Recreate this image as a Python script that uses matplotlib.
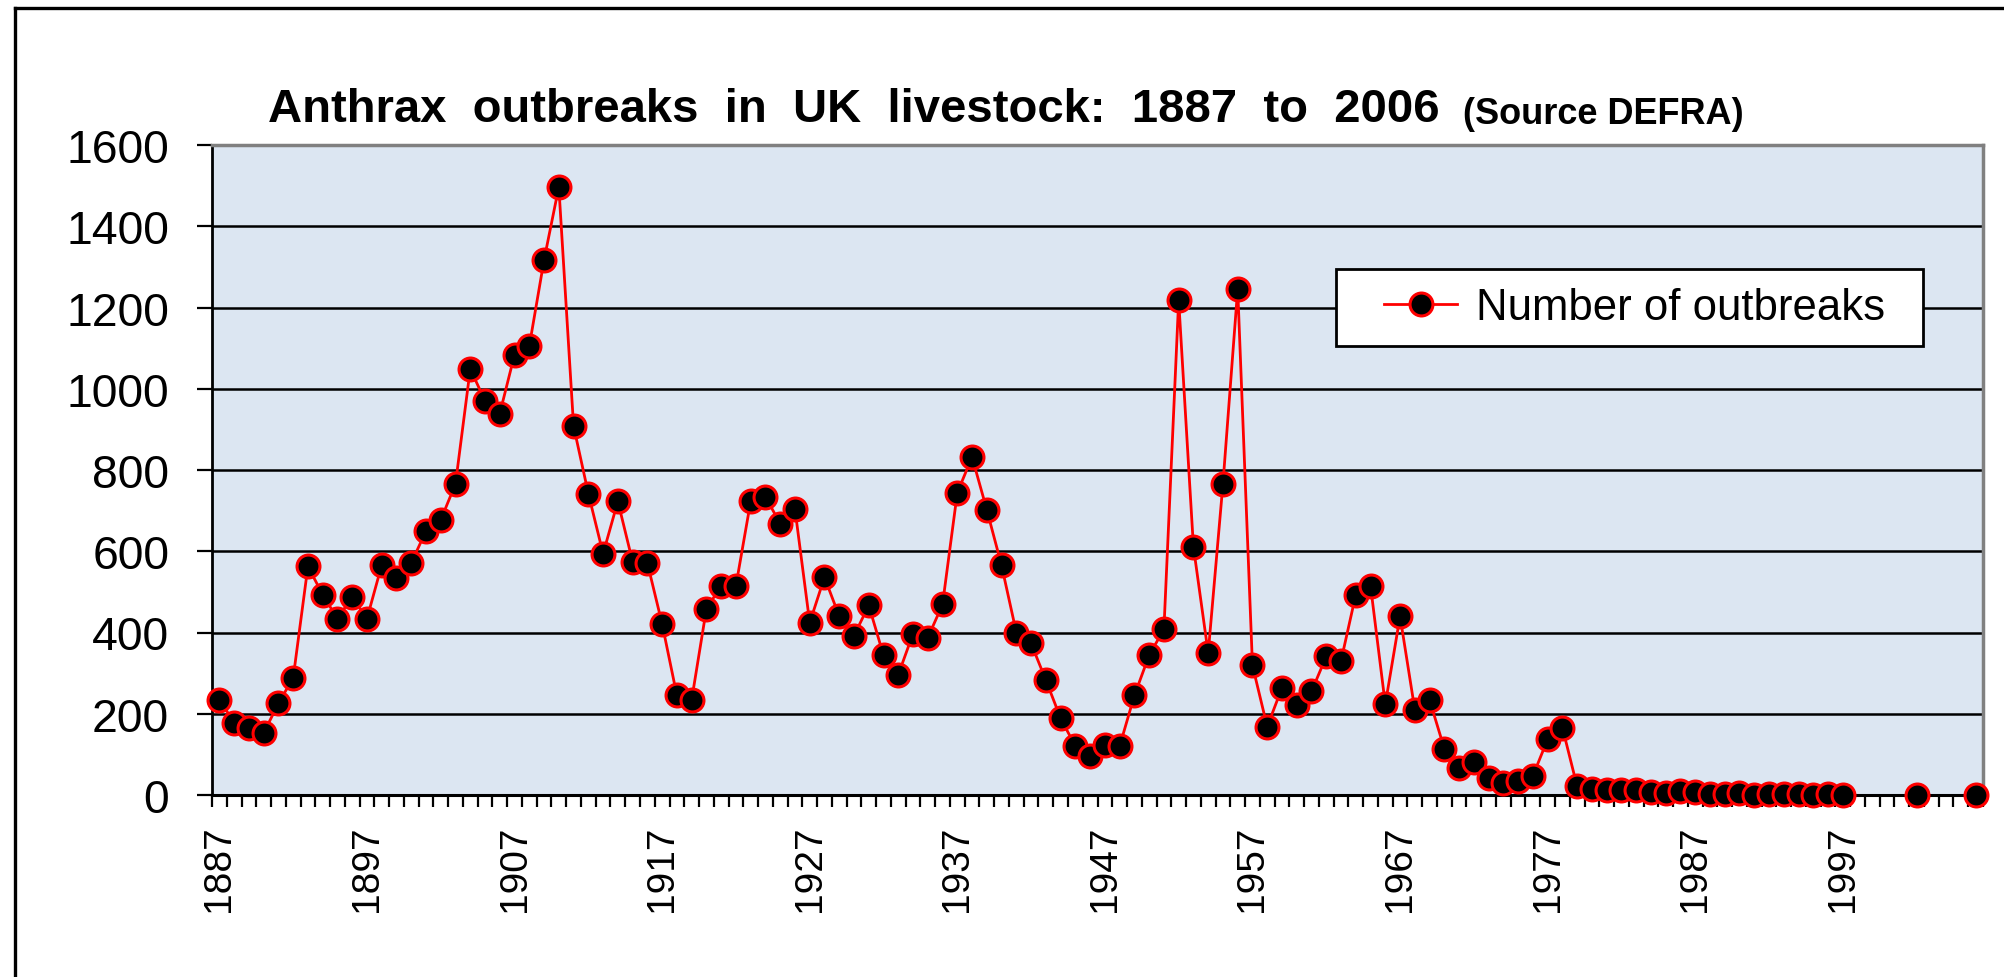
"""
Anthrax outbreaks in UK livestock, 1887 to 2006 (DEFRA figures)
"""
import numpy as np
import matplotlib
matplotlib.use("Agg")
from matplotlib import pyplot as plt
from matplotlib.lines import Line2D
from matplotlib.patches import Rectangle

plt.rcParams["font.family"] = ["Liberation Sans", "DejaVu Sans"]

# data (None = no value plotted for that year)
years = list(range(1887, 2007))
outbreaks = [
    235, 178, 166, 152, 226, 288, 563, 493, 434, 488,      # 1887-1896
    434, 566, 533, 571, 650, 677, 766, 1049, 970, 939,     # 1897-1906
    1084, 1105, 1317, 1497, 908, 742, 594, 723, 574, 571,  # 1907-1916
    421, 245, 234, 458, 515, 515, 723, 734, 668, 704,      # 1917-1926
    424, 536, 440, 392, 467, 344, 296, 397, 387, 469,      # 1927-1936
    744, 832, 702, 565, 400, 373, 283, 189, 120, 95,       # 1937-1946
    122, 120, 245, 344, 408, 1218, 611, 349, 766, 1246,    # 1947-1956
    319, 168, 264, 221, 255, 341, 330, 493, 515, 223,      # 1957-1966
    440, 210, 234, 114, 66, 82, 42, 30, 35, 47,            # 1967-1976
    137, 166, 21, 15, 13, 13, 12, 8, 4, 11,                # 1977-1986
    7, 2, 3, 4, 1, 2, 2, 3, 1, 3,                          # 1987-1996
    1, None, None, None, None, 1, None, None, None, 1,     # 1997-2006
]
label_years = list(range(1887, 1998, 10))
y_ticks = list(range(0, 1601, 200))
series_name = "Number of outbreaks"

W, H = 2004, 978
fig = plt.figure(figsize=(W / 100, H / 100), dpi=100)
ax = fig.add_axes([212 / W, 1 - 796 / H, (1983 - 212) / W, (796 - 146) / H])
ax.set_facecolor("#DCE6F2")

vals = np.array([np.nan if v is None else v for v in outbreaks], dtype=float)
ax.plot(years, vals, color="red", lw=2, marker="o", ms=16.5,
        mfc="black", mec="red", mew=2.2, zorder=4, label=series_name,
        clip_on=False)

ax.set_xlim(1886.5, 2006.5)
ax.set_ylim(0, 1600)
ax.set_yticks(y_ticks)
ax.set_yticklabels([str(v) for v in y_ticks])
ax.set_xticks(label_years)
ax.set_xticklabels([str(y) for y in label_years], rotation=90)
ax.set_xticks(np.arange(1886.5, 2007, 1), minor=True)

ax.tick_params(axis="y", which="major", direction="out", length=10.8,
               width=1.6, labelsize=33.4, pad=20)
ax.tick_params(axis="x", which="major", length=0, labelsize=28, pad=21)
ax.tick_params(axis="x", which="minor", direction="out", length=8.6, width=1.6)

ax.set_axisbelow(True)
ax.yaxis.grid(True, color="black", lw=1.8)
ax.xaxis.grid(False)

ax.spines["left"].set(color="black", lw=2)
ax.spines["bottom"].set(color="black", lw=2.2)
ax.spines["top"].set(color="#808080", lw=2.5)
ax.spines["right"].set(color="#808080", lw=2.5)

# legend box with a single entry
ax.add_patch(Rectangle((1336 / W, 1 - 347 / H), 587 / W, 77 / H,
                       transform=fig.transFigure, facecolor="white",
                       edgecolor="black", lw=2, zorder=5))
leg = ax.legend(loc="center left", bbox_to_anchor=(1384 / W, 1 - 308.5 / H),
                bbox_transform=fig.transFigure, frameon=False, borderpad=0,
                borderaxespad=0, handlelength=1.67, handletextpad=0.43,
                numpoints=1, fontsize=31.5)
leg.set_zorder(6)

# title, with the smaller source note after it
title = fig.text(268 / W, 1 - 122 / H,
                 "Anthrax  outbreaks  in  UK  livestock:  1887  to  2006",
                 fontsize=34, fontweight="bold", ha="left", va="baseline")
ax.annotate("(Source DEFRA)", xy=(1, 0), xycoords=title,
            xytext=(17, 0), textcoords="offset points",
            fontsize=26, fontweight="bold", ha="left", va="bottom",
            annotation_clip=False)

# outer chart border (cut off on the right and bottom)
fig.add_artist(Line2D([15 / W, 1], [1 - 9 / H, 1 - 9 / H],
                      transform=fig.transFigure, color="black", lw=2.4))
fig.add_artist(Line2D([15 / W, 15 / W], [0, 1 - 9 / H],
                      transform=fig.transFigure, color="black", lw=2.4))

fig.savefig("out.png", dpi=100)
